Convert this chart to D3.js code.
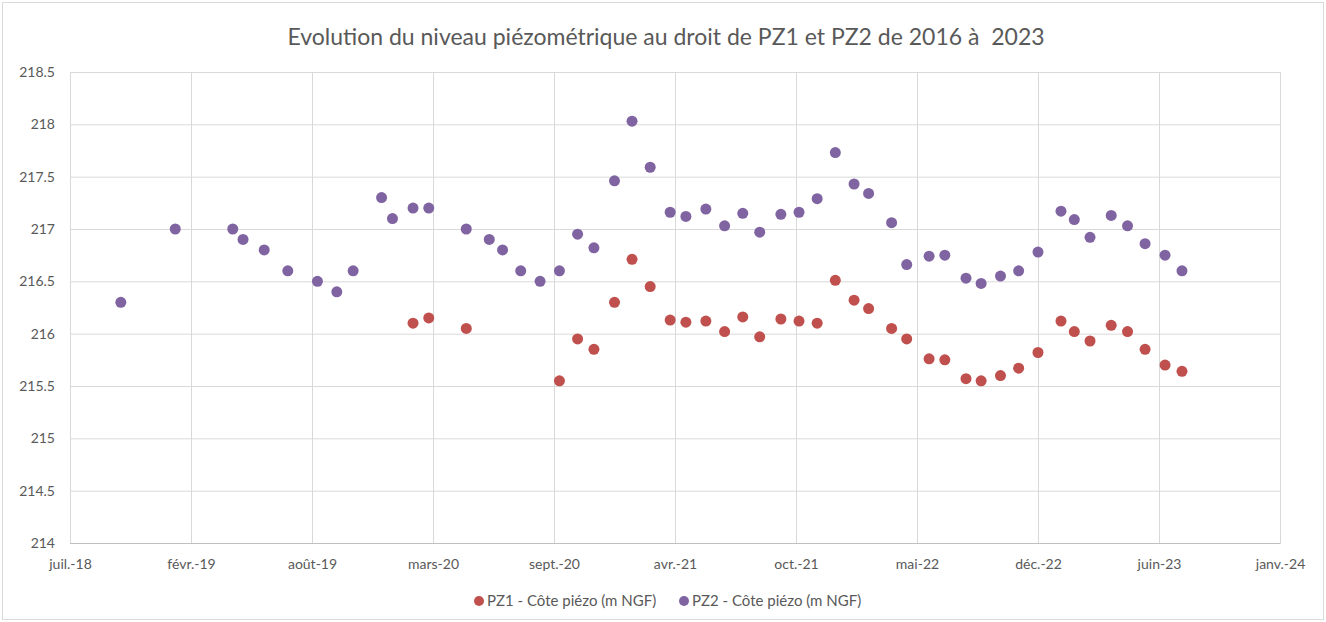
<!DOCTYPE html>
<html>
<head>
<meta charset="utf-8">
<script src="https://cdn.jsdelivr.net/npm/d3@7"></script>
<style>
  body { margin: 0; background: #fff; }
  svg text { font-family: Lato, "Open Sans", sans-serif; fill: #595959; }
</style>
</head>
<body>
<div id="chart"></div>
<script>
// data
var pz1Dates = ["2020-02-06","2020-03-03","2020-05-04","2020-10-05","2020-11-04","2020-12-01",
  "2021-01-04","2021-02-02","2021-03-04","2021-04-06","2021-05-02","2021-06-04","2021-07-05",
  "2021-08-04","2021-09-01","2021-10-06","2021-11-05","2021-12-05","2022-01-04","2022-02-04",
  "2022-02-28","2022-04-07","2022-05-02","2022-06-08","2022-07-04","2022-08-08","2022-09-02",
  "2022-10-04","2022-11-03","2022-12-05","2023-01-12","2023-02-03","2023-03-01","2023-04-05",
  "2023-05-02","2023-05-31","2023-07-03","2023-07-31"];
var pz1Values = [216.10,216.15,216.05,215.55,215.95,215.85,
  216.30,216.71,216.45,216.13,216.11,216.12,216.02,
  216.16,215.97,216.14,216.12,216.10,216.51,216.32,
  216.24,216.05,215.95,215.76,215.75,215.57,215.55,
  215.60,215.67,215.82,216.12,216.02,215.93,216.08,
  216.02,215.85,215.70,215.64];

var pz2Dates = ["2018-10-11","2019-01-09","2019-04-14","2019-05-01","2019-06-05","2019-07-14",
  "2019-09-01","2019-10-03","2019-10-30","2019-12-16","2020-01-03","2020-02-06","2020-03-03",
  "2020-05-04","2020-06-11","2020-07-03","2020-08-02","2020-09-03","2020-10-05","2020-11-04",
  "2020-12-01","2021-01-04","2021-02-02","2021-03-04","2021-04-06","2021-05-02","2021-06-04",
  "2021-07-05","2021-08-04","2021-09-01","2021-10-06","2021-11-05","2021-12-05","2022-01-04",
  "2022-02-04","2022-02-28","2022-04-07","2022-05-02","2022-06-08","2022-07-04","2022-08-08",
  "2022-09-02","2022-10-04","2022-11-03","2022-12-05","2023-01-12","2023-02-03","2023-03-01",
  "2023-04-05","2023-05-02","2023-05-31","2023-07-03","2023-07-31"];
var pz2Values = [216.30,217.00,217.00,216.90,216.80,216.60,
  216.50,216.40,216.60,217.30,217.10,217.20,217.20,
  217.00,216.90,216.80,216.60,216.50,216.60,216.95,
  216.82,217.46,218.03,217.59,217.16,217.12,217.19,
  217.03,217.15,216.97,217.14,217.16,217.29,217.73,
  217.43,217.34,217.06,216.66,216.74,216.75,216.53,
  216.48,216.55,216.60,216.78,217.17,217.09,216.92,
  217.13,217.03,216.86,216.75,216.60];

// x axis: excel serial 43300 -> 45300, one tick every 200 days
var xStart = "2018-07-19";
var xStepDays = 200;
var xTickLabels = ["juil.-18","févr.-19","août-19","mars-20","sept.-20","avr.-21",
  "oct.-21","mai-22","déc.-22","juin-23","janv.-24"];
var yTicks = [214,214.5,215,215.5,216,216.5,217,217.5,218,218.5];

var seriesNames = ["PZ1 - Côte piézo (m NGF)", "PZ2 - Côte piézo (m NGF)"];
var seriesColors = ["#C0504D", "#8064A2"];

var W = 1326, H = 622;
var margin = {left: 70, right: 46, top: 72, bottom: 79};

var parse = d3.utcParse("%Y-%m-%d");
var t0 = parse(xStart);
var xTickDates = xTickLabels.map(function(d, i) { return d3.utcDay.offset(t0, i * xStepDays); });

var svg = d3.select("#chart").append("svg")
    .attr("width", W)
    .attr("height", H);

// chart frame
svg.append("rect")
    .attr("x", 2.5).attr("y", 2.5)
    .attr("width", W - 5).attr("height", H - 5)
    .style("fill", "#fff")
    .style("stroke", "#d9d9d9");

var x = d3.scaleUtc()
    .domain([xTickDates[0], xTickDates[xTickDates.length - 1]])
    .range([margin.left, W - margin.right]);

var y = d3.scaleLinear()
    .domain([214, 218.5])
    .range([H - margin.bottom, margin.top]);

// horizontal gridlines
svg.append("g")
    .attr("transform", "translate(" + margin.left + ",0)")
    .call(d3.axisLeft(y).tickValues(yTicks).tickSize(-(W - margin.left - margin.right)).tickFormat(function(d) { return d; }).tickPadding(15))
    .call(function(g) {
        g.select(".domain").remove();
        g.selectAll(".tick line").style("stroke", "#d9d9d9");
        g.selectAll(".tick text").style("font-size", "14px").style("fill", "#595959");
    });

// vertical gridlines + labels
svg.append("g")
    .attr("transform", "translate(0," + (H - margin.bottom) + ")")
    .call(d3.axisBottom(x).tickValues(xTickDates).tickSize(-(H - margin.top - margin.bottom))
        .tickFormat(function(d, i) { return xTickLabels[i]; }).tickPadding(16))
    .call(function(g) {
        g.select(".domain").style("stroke", "#bfbfbf");
        g.selectAll(".tick line").style("stroke", "#d9d9d9");
        g.selectAll(".tick text").style("font-size", "14px").style("fill", "#595959");
    });

// points
var series = [
    {dates: pz1Dates, values: pz1Values},
    {dates: pz2Dates, values: pz2Values}
];
series.forEach(function(s, k) {
    var pts = s.dates.map(function(d, i) { return {date: parse(d), value: s.values[i]}; });
    svg.append("g").selectAll("circle")
        .data(pts)
        .enter()
        .append("circle")
        .attr("cx", function(d) { return x(d.date); })
        .attr("cy", function(d) { return y(d.value); })
        .attr("r", 5.5)
        .style("fill", seriesColors[k]);
});

// title
svg.append("text")
    .attr("x", 666)
    .attr("y", 45)
    .attr("text-anchor", "middle")
    .style("font-size", "23px")
    .style("white-space", "pre")
    .text("Evolution du niveau piézométrique au droit de PZ1 et PZ2 de 2016 à  2023");

// legend
var legendX = [479, 684];
seriesNames.forEach(function(name, k) {
    svg.append("circle")
        .attr("cx", legendX[k]).attr("cy", 601)
        .attr("r", 5)
        .style("fill", seriesColors[k]);
    svg.append("text")
        .attr("x", legendX[k] + 8).attr("y", 606)
        .style("font-size", "15px")
        .text(name);
});
</script>
</body>
</html>
